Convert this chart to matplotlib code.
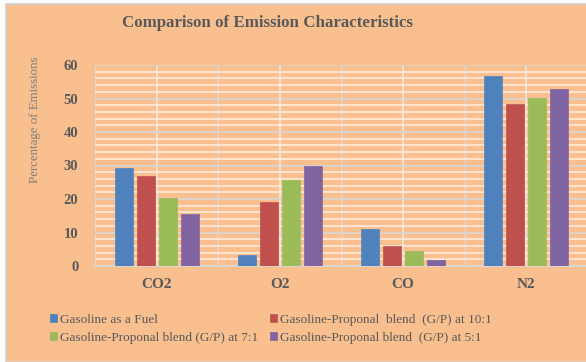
import matplotlib
matplotlib.use("Agg")
import matplotlib.pyplot as plt
import numpy as np
from matplotlib.patches import Rectangle
from matplotlib.ticker import MultipleLocator, FixedLocator

categories = ["CO2", "O2", "CO", "N2"]
series_names = [
    "Gasoline as a Fuel",
    "Gasoline-Proponal  blend  (G/P) at 10:1",
    "Gasoline-Proponal blend (G/P) at 7:1",
    "Gasoline-Proponal blend  (G/P) at 5:1",
]
gasoline = [29.2, 3.3, 11.0, 56.6]
blend_10_1 = [26.8, 19.0, 6.0, 48.4]
blend_7_1 = [20.3, 25.6, 4.5, 50.1]
blend_5_1 = [15.5, 29.8, 1.8, 52.7]
colors = ["#4F81BD", "#C0504D", "#9BBB59", "#8064A2"]
yticks = [0, 10, 20, 30, 40, 50, 60]

BG = "#FABF8F"
TXT = "#595959"
SERIF = ["Liberation Serif", "DejaVu Serif"]

fig = plt.figure(figsize=(5.86, 3.62), dpi=100)
fig.patch.set_facecolor("white")
# chart area background with thin gray border
bg = Rectangle((6 / 586, 0), 1, 1 - 3.5 / 362, transform=fig.transFigure,
               facecolor=BG, edgecolor="#D0D0D0", linewidth=1.2, zorder=-10)
fig.patches.append(bg)

ax = fig.add_axes([95 / 586, 1 - 266 / 362, (588 - 95) / 586, (266 - 65) / 362])
ax.set_zorder(1)
ax.patch.set_alpha(0)

x = np.arange(len(categories))
series = [gasoline, blend_10_1, blend_7_1, blend_5_1]
step = 0.179
width = 0.146
bars = []
for i, (vals, c) in enumerate(zip(series, colors)):
    b = ax.bar(x + (i - 1.5) * step, vals, width=width, color=c, zorder=3,
               edgecolor=c, linewidth=0.5)
    bars.append(b)

ax.set_xlim(-0.5, 3.5)
ax.set_ylim(0, 60)
ax.yaxis.set_major_locator(FixedLocator(yticks))
ax.yaxis.set_minor_locator(MultipleLocator(2))
ax.set_xticks(x)
ax.set_xticklabels(categories)
ax.xaxis.set_minor_locator(FixedLocator(np.arange(-0.5, 3.6, 1.0)))

ax.grid(which="major", axis="y", color="#DCD6D0", linewidth=1.3, zorder=0)
ax.grid(which="minor", axis="y", color="#FDEEE2", linewidth=1.1, zorder=0)
ax.grid(which="major", axis="x", color="#F3ECE6", linewidth=1.1, zorder=0)
ax.grid(which="minor", axis="x", color="#DCD6D0", linewidth=1.1, zorder=0)
ax.set_axisbelow(True)

for s in ["top", "right", "left"]:
    ax.spines[s].set_visible(False)
ax.spines["bottom"].set_color("#D9D9D9")
ax.spines["bottom"].set_linewidth(1.2)
ax.tick_params(axis="both", which="both", length=0)
ax.tick_params(axis="y", pad=12)
ax.tick_params(axis="x", pad=9)
for lab in ax.get_yticklabels():
    lab.set_fontfamily(SERIF)
    lab.set_fontweight("bold")
    lab.set_fontsize(10.5)
    lab.set_color(TXT)
for lab in ax.get_xticklabels():
    lab.set_fontfamily(SERIF)
    lab.set_fontweight("bold")
    lab.set_fontsize(11)
    lab.set_color(TXT)

fig.text(267 / 586, 1 - 23 / 362, "Comparison of Emission Characteristics",
         ha="center", va="center", fontsize=12.2, fontweight="bold",
         family=SERIF, color=TXT)
fig.text(35 / 586, 1 - 120 / 362, "Percentage of Emissions", rotation=90,
         ha="center", va="center", fontsize=9.3, family=SERIF, color="#7F7F7F")

handles = [bars[0], bars[2], bars[1], bars[3]]
labels = [series_names[0], series_names[2], series_names[1], series_names[3]]
leg = fig.legend(handles, labels, ncol=2, loc="upper left",
                 bbox_to_anchor=(38 / 586, 1 - 302 / 362),
                 frameon=False, handlelength=0.55, handleheight=0.55,
                 handletextpad=0.2, columnspacing=0.9, labelspacing=0.45,
                 prop={"family": SERIF, "size": 9.5})
for t in leg.get_texts():
    t.set_color(TXT)

fig.savefig("out.png", dpi=100, facecolor=fig.get_facecolor())
